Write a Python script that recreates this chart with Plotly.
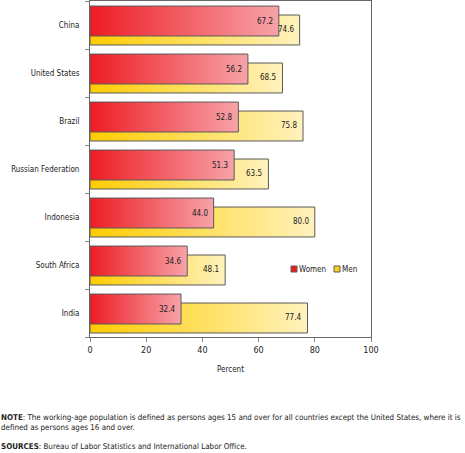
import plotly.graph_objects as go

countries = ["China", "United States", "Brazil", "Russian Federation",
             "Indonesia", "South Africa", "India"]
women = [67.2, 56.2, 52.8, 51.3, 44.0, 34.6, 32.4]
men = [74.6, 68.5, 75.8, 63.5, 80.0, 48.1, 77.4]
x_ticks = [0, 20, 40, 60, 80, 100]
series_names = ["Women", "Men"]

FONT = "DejaVu Sans Condensed, Liberation Sans, sans-serif"
FS = 8
TXT = "#222222"
EDGE = "#5a5a5a"
W_CS = [[0, "#ed1c24"], [1, "#f7a3a8"]]
M_CS = [[0, "#ffcc00"], [1, "#fff2bd"]]
W_TOP, W_BOT = -0.395, 0.229
M_TOP, M_BOT = -0.208, 0.416

L, R, T, B = 90, 94, 1, 116
W, H = 465, 453
PW, PH = W - L - R, H - T - B

fig = go.Figure()


def add_bar(val, i, top, bot, cs):
    fig.add_trace(go.Scatter(
        x=[0, val, val, 0, 0],
        y=[i + top, i + top, i + bot, i + bot, i + top],
        mode="lines", fill="toself",
        fillgradient=dict(type="horizontal", colorscale=cs),
        line=dict(color=EDGE, width=1),
        showlegend=False, hoverinfo="skip"))


for i, v in enumerate(men):
    add_bar(v, i, M_TOP, M_BOT, M_CS)
for i, v in enumerate(women):
    add_bar(v, i, W_TOP, W_BOT, W_CS)

for vals, top, bot in ((men, M_TOP, M_BOT), (women, W_TOP, W_BOT)):
    for i, v in enumerate(vals):
        fig.add_annotation(x=v, y=i + (top + bot) / 2, xref="x", yref="y",
                           text=f"{v:.1f}", showarrow=False, xanchor="right",
                           yanchor="middle", xshift=-4,
                           font=dict(family=FONT, size=FS, color=TXT))


def px_x(p):
    return (p - L) / PW


def px_y(p):
    return 1 - (p - T) / PH


# legend
leg = [("#ed1c24", 291, 297), ("#ffd21a", 334, 340)]
for (col, sx, tx), name in zip(leg, series_names):
    fig.add_shape(type="rect", xref="paper", yref="paper",
                  x0=px_x(sx), x1=px_x(sx + 6), y0=px_y(272), y1=px_y(266),
                  fillcolor=col, line=dict(color=EDGE, width=1))
    fig.add_annotation(xref="paper", yref="paper", x=px_x(tx), y=px_y(269),
                       xanchor="left", yanchor="middle", text=name, showarrow=False,
                       font=dict(family=FONT, size=FS, color=TXT))

fig.add_annotation(
    xref="paper", yref="paper", x=0, y=0, xshift=-L - 1, yshift=-(411 - 337),
    xanchor="left", yanchor="top", align="left", showarrow=False,
    text="<b>NOTE</b>: The working-age population is defined as persons ages 15 and over "
         "for all countries except the United States, where it is<br>"
         "defined as persons ages 16 and over.",
    font=dict(family=FONT, size=7.95, color=TXT))
fig.add_annotation(
    xref="paper", yref="paper", x=0, y=0, xshift=-L - 1, yshift=-(440 - 337),
    xanchor="left", yanchor="top", align="left", showarrow=False,
    text="<b>SOURCES</b>: Bureau of Labor Statistics and International Labor Office.",
    font=dict(family=FONT, size=7.95, color=TXT))

fig.update_layout(
    width=W, height=H, margin=dict(l=L, r=R, t=T, b=B),
    paper_bgcolor="white", plot_bgcolor="white",
    font=dict(family=FONT, size=FS, color=TXT),
    showlegend=False,
    xaxis=dict(range=[0, 100], tickvals=x_ticks, ticks="outside", ticklen=4,
               tickcolor="#888", showline=True, linecolor="#666", mirror=True,
               showgrid=False, zeroline=False, tickfont=dict(size=9),
               title=dict(text="Percent", standoff=12, font=dict(size=FS))),
    yaxis=dict(range=[6.5, -0.5], tickvals=list(range(len(countries))),
               ticktext=countries, ticks="", ticklabelstandoff=8,
               showline=True, linecolor="#666", mirror=True, showgrid=False,
               zeroline=False,
               minor=dict(tickvals=[k - 0.5 for k in range(len(countries) + 1)],
                          ticks="outside", ticklen=4, tickcolor="#888", showgrid=False)),
)

fig.write_html("out.html")
